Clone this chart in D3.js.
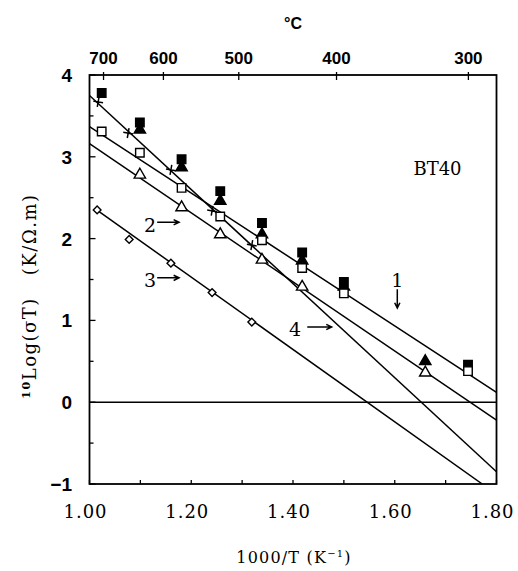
<!DOCTYPE html>
<html>
<head>
<meta charset="utf-8">
<script src="https://cdn.jsdelivr.net/npm/d3@7"></script>
<style>
body{margin:0;background:#fff}
svg text{fill:#000}
</style>
</head>
<body>
<div id="chart"></div>
<script>
// measured series (x = 1000/T, y = 10log(sigma T))
var fsqX = [1.024,1.099,1.181,1.257,1.339,1.418,1.500,1.744],
	fsqY = [3.78,3.42,2.97,2.58,2.19,1.83,1.47,0.46];
var ftrX = [1.099,1.181,1.257,1.339,1.418,1.500,1.660],
	ftrY = [3.33,2.87,2.46,2.05,1.73,1.41,0.50];
var osqX = [1.024,1.099,1.181,1.257,1.339,1.418,1.500,1.744],
	osqY = [3.31,3.05,2.62,2.27,1.98,1.64,1.33,0.38];
var otrX = [1.099,1.181,1.257,1.339,1.418,1.660],
	otrY = [2.78,2.38,2.05,1.74,1.41,0.36];
var plusX = [1.017,1.076,1.160,1.241,1.319],
	plusY = [3.67,3.29,2.84,2.34,1.92];
var diaX = [1.015,1.078,1.160,1.241,1.319],
	diaY = [2.35,1.99,1.70,1.34,0.98];

// fitted lines: [x1,y1,x2,y2]
var fitLines = [
	[1.00,3.37,1.80,0.12],
	[1.00,3.16,1.80,-0.22],
	[1.012,2.36,1.772,-1.00],
	[1.00,3.75,1.80,-0.85]
];

var xTicks = [1.00,1.20,1.40,1.60,1.80],
	xMinor = d3.range(1.0,1.801,0.1),
	yTicks = [-1,0,1,2,3,4],
	yMinor = d3.range(-1,4.01,0.5),
	cTicks = [700,600,500,400,300];

// labels: text, x, y, arrow [x1,y1,x2,y2]
var notes = [
	{t:'1', x:1.605, y:1.50, a:[1.605,1.38,1.605,1.15]},
	{t:'2', x:1.119, y:2.17, a:[1.133,2.20,1.176,2.20]},
	{t:'3', x:1.119, y:1.49, a:[1.133,1.52,1.176,1.52]},
	{t:'4', x:1.404, y:0.89, a:[1.428,0.92,1.476,0.92]}
];

var W = 518, H = 571,
	L = 89.5, R = 496.5, T = 75, B = 484;

var svg = d3.select('#chart').append('svg').attr('width',W).attr('height',H),
	x = d3.scaleLinear().domain([1.0,1.8]).range([L,R]),
	y = d3.scaleLinear().domain([-1,4]).range([B,T]);

function pts(xs,ys){ return xs.map(function(d,i){ return [d,ys[i]]; }); }

svg.append('defs').append('clipPath').attr('id','plotClip')
	.append('rect').attr('x',L).attr('y',T).attr('width',R-L).attr('height',B-T);

var plot = svg.append('g').attr('clip-path','url(#plotClip)');

// zero line
plot.append('line')
	.attr('x1',x(1.0)).attr('x2',x(1.8))
	.attr('y1',y(0)).attr('y2',y(0))
	.attr('stroke','#000').attr('stroke-width',1.6);

plot.selectAll('.fit')
	.data(fitLines)
	.enter()
	.append('line')
		.attr('x1',function(d){ return x(d[0]); })
		.attr('y1',function(d){ return y(d[1]); })
		.attr('x2',function(d){ return x(d[2]); })
		.attr('y2',function(d){ return y(d[3]); })
		.attr('stroke','#000').attr('stroke-width',1.5);

// markers
var sq = d3.symbol().type(d3.symbolSquare).size(72),
	tri = d3.symbol().type(d3.symbolTriangle).size(56),
	dia = d3.symbol().type(d3.symbolSquare).size(30);

function drawSym(data,path,fill,rot){
	svg.append('g').selectAll('path')
		.data(data)
		.enter()
		.append('path')
			.attr('d',path)
			.attr('transform',function(d){ return 'translate('+x(d[0])+','+y(d[1])+')'+(rot?' rotate(45)':''); })
			.attr('fill',fill)
			.attr('stroke','#000')
			.attr('stroke-width',1.4);
}
drawSym(pts(fsqX,fsqY),sq(),'#000');
drawSym(pts(ftrX,ftrY),tri(),'#000');
drawSym(pts(osqX,osqY),sq(),'#fff');
drawSym(pts(otrX,otrY),tri(),'#fff');
drawSym(pts(diaX,diaY),dia(),'#fff',true);

svg.append('g').selectAll('path')
	.data(pts(plusX,plusY))
	.enter()
	.append('path')
		.attr('d','M-5,0H5M0,-5V5')
		.attr('transform',function(d){ return 'translate('+x(d[0])+','+y(d[1])+') rotate(10)'; })
		.attr('stroke','#000').attr('stroke-width',1.5);

// frame
svg.append('rect').attr('x',L).attr('y',T).attr('width',R-L).attr('height',B-T)
	.attr('fill','none').attr('stroke','#000').attr('stroke-width',1.8);

// bottom axis ticks
svg.append('g').selectAll('line')
	.data(xMinor)
	.enter()
	.append('line')
		.attr('x1',function(d){ return x(d); }).attr('x2',function(d){ return x(d); })
		.attr('y1',B).attr('y2',B-4)
		.attr('stroke','#000').attr('stroke-width',1.3);
svg.append('g').selectAll('text')
	.data(xTicks)
	.enter()
	.append('text')
		.attr('x',function(d){ return x(d)-4; })
		.attr('y',518)
		.attr('text-anchor','middle')
		.style('font','18px "DejaVu Serif"')
		.style('letter-spacing','1px')
		.text(function(d){ return d.toFixed(2); });

// left axis ticks
svg.append('g').selectAll('line')
	.data(yMinor)
	.enter()
	.append('line')
		.attr('x1',L).attr('x2',function(d){ return L+(d%1===0?6:4); })
		.attr('y1',function(d){ return y(d); }).attr('y2',function(d){ return y(d); })
		.attr('stroke','#000').attr('stroke-width',1.3);
svg.append('g').selectAll('text')
	.data(yTicks)
	.enter()
	.append('text')
		.attr('x',72)
		.attr('y',function(d){ return y(d)+7; })
		.attr('text-anchor','end')
		.style('font','bold 19px "Liberation Sans"')
		.text(function(d){ return d<0 ? '\u2212'+(-d) : d; });

// top axis in degrees C
svg.append('g').selectAll('line')
	.data(cTicks)
	.enter()
	.append('line')
		.attr('x1',function(d){ return x(1000/(d+273.15)); })
		.attr('x2',function(d){ return x(1000/(d+273.15)); })
		.attr('y1',T-3).attr('y2',T+5)
		.attr('stroke','#000').attr('stroke-width',1.3);
svg.append('g').selectAll('text')
	.data(cTicks)
	.enter()
	.append('text')
		.attr('x',function(d){ return x(1000/(d+273.15)); })
		.attr('y',64)
		.attr('text-anchor','middle')
		.style('font','bold 17px "Liberation Sans"')
		.text(function(d){ return d; });

svg.append('text').attr('x',293).attr('y',29).attr('text-anchor','middle')
	.style('font','bold 16px "Liberation Sans"').text('\u00b0C');

// axis titles
svg.append('text').attr('x',294).attr('y',563).attr('text-anchor','middle')
	.style('font','16px "DejaVu Serif"')
	.style('letter-spacing','1.2px')
	.html('1000/T  (K<tspan dy="-6" font-size="10">\u22121</tspan><tspan dy="6">)</tspan>');

svg.append('text')
	.attr('transform','translate(36,296) rotate(-90)')
	.attr('text-anchor','middle')
	.style('font','18px "DejaVu Serif"')
	.style('letter-spacing','1.5px')
	.html('<tspan font-size="11" font-weight="bold" dy="-6">10</tspan><tspan dy="6">Log(\u03c3T)</tspan><tspan dx="22">(K/\u03a9.m)</tspan>');

// BT40
svg.append('text').attr('x',x(1.684)).attr('y',y(2.78)).attr('text-anchor','middle')
	.style('font','18px "DejaVu Serif"').text('BT40');

// line labels with arrows
var ng = svg.append('g');
notes.forEach(function(n){
	ng.append('text').attr('x',x(n.x)).attr('y',y(n.y)+7).attr('text-anchor','middle')
		.style('font','19px "DejaVu Serif"').text(n.t);
	var x1 = x(n.a[0]), y1 = y(n.a[1]), x2 = x(n.a[2]), y2 = y(n.a[3]),
		ang = Math.atan2(y2-y1,x2-x1), h = 6;
	ng.append('path')
		.attr('d','M'+x1+','+y1+'L'+x2+','+y2+
			'M'+(x2-h*Math.cos(ang-0.45))+','+(y2-h*Math.sin(ang-0.45))+'L'+x2+','+y2+
			'L'+(x2-h*Math.cos(ang+0.45))+','+(y2-h*Math.sin(ang+0.45)))
		.attr('fill','none').attr('stroke','#000').attr('stroke-width',1.5);
});
</script>
</body>
</html>
